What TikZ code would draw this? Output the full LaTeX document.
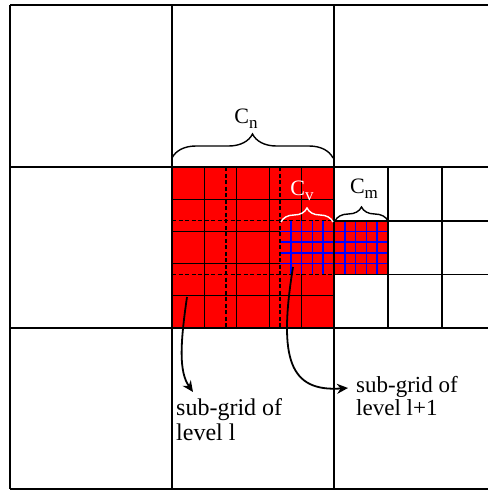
\documentclass[tikz,border=0pt]{standalone}
\usepackage{fontspec}
\setmainfont{Liberation Serif}
\usetikzlibrary{arrows.meta}
\usetikzlibrary{decorations.pathreplacing}
\tikzset{
  grade/.style={line width=2.4pt},
  subgrade/.style={line width=1.6pt},
  fino/.style={line width=0.8pt},
  tracejado/.style={line width=1.3pt, dash pattern=on 4pt off 2.5pt},
  azul/.style={blue, line width=1.6pt},
  chave/.style={decorate, decoration={brace, amplitude=#1}, line width=1.4pt},
  chave/.default=14pt,
  rotulo/.style={font=\fontsize{22}{24}\selectfont, inner sep=0pt},
  seta/.style={-{Stealth[length=11pt,width=10pt]}, line width=1.8pt},
}
\newcommand{\idx}[1]{\raisebox{-5pt}{\fontsize{17}{17}\selectfont #1}}

\begin{document}
\begin{tikzpicture}[x=1pt, y=-1pt]
  \useasboundingbox (0,0) rectangle (488,491);
  \clip (0,0) rectangle (488,491);
  % celula refinada
  \fill[red] (172,167) rectangle (334,328);
  \fill[red] (334,220.7) rectangle (388,274.3);
  \foreach \k in {1,...,4} {
    \draw[fino] ({172+32.4*\k},167) -- ({172+32.4*\k},328);
    \draw[fino] (172,{167+32.2*\k}) -- (334,{167+32.2*\k});
  }
  % sub-grade de nivel l+1
  \foreach \k in {1,...,9}
    \draw[azul] ({280+10.8*\k},220.7) -- ({280+10.8*\k},274.3);
  \foreach \k in {1,...,4}
    \draw[azul] (280,{220.7+10.72*\k}) -- (388,{220.7+10.72*\k});
  \foreach \k in {1,2} {
    \draw[tracejado] ({172+54*\k},167) -- ({172+54*\k},328);
    \draw[tracejado] (172,{167+53.7*\k}) -- (334,{167+53.7*\k});
  }
  % celula vizinha
  \foreach \x in {388,442}
    \draw[subgrade] (\x,167) -- (\x,328);
  \foreach \y in {220.7,274.3}
    \draw[subgrade] (334,\y) -- (496,\y);
  % grade principal
  \foreach \x in {10,172,334}
    \draw[grade] (\x,5) -- (\x,489);
  \foreach \y in {5,167,328,489}
    \draw[grade] (10,\y) -- (496,\y);

  % chaves
  \draw[chave=24pt] (172,158) -- (333,158);
  \draw[chave, white] (281,222) -- (333,222);
  \draw[chave] (335,221) -- (388,221);
  \node[rotulo, anchor=base] (cn) at (246,123) {C\idx{n}};
  \node[rotulo, anchor=base, white] (cv) at (302,195) {C\idx{v}};
  \node[rotulo, anchor=base] (cm) at (364,193) {C\idx{m}};

  % legendas
  \node[align=left, inner sep=0pt, anchor=north west, font=\fontsize{24}{25}\selectfont] (nivel) at (176,398) {sub-grid of\\level l};
  \node[align=left, inner sep=0pt, anchor=north west, font=\fontsize{23}{23}\selectfont] (nivelmais) at (356,376) {sub-grid of\\level l+1};
  \coordinate (p1) at (187,297);
  \coordinate (q1) at (193,392);
  \coordinate (p2) at (293,267);
  \coordinate (q2) at (348,388);
  \draw[seta] (p1) .. controls (180,345) and (179,372) .. (q1);
  \draw[seta] (p2) .. controls (278,360) and (290,392) .. (q2);
\end{tikzpicture}
\end{document}
